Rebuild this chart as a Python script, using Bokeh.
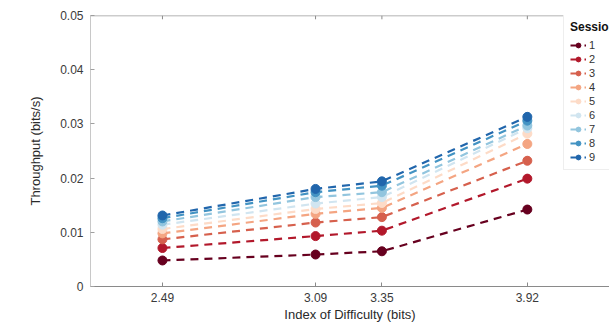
from bokeh.plotting import figure
from bokeh.models import FixedTicker, Legend, LegendItem, Range1d, Span
from bokeh.embed import file_html
from bokeh.resources import INLINE

difficulty = [2.49, 3.09, 3.35, 3.92]
tick_labels = ["2.49", "3.09", "3.35", "3.92"]
sessions = ["1", "2", "3", "4", "5", "6", "7", "8", "9"]

s1 = [0.0048, 0.0059, 0.0065, 0.0142]
s2 = [0.0071, 0.0093, 0.0103, 0.0199]
s3 = [0.0087, 0.0118, 0.0128, 0.0232]
s4 = [0.0098, 0.0134, 0.0145, 0.0263]
s5 = [0.0106, 0.0143, 0.0154, 0.0282]
s6 = [0.0114, 0.0153, 0.0165, 0.0292]
s7 = [0.0120, 0.0165, 0.0174, 0.0297]
s8 = [0.0126, 0.0174, 0.0186, 0.0306]
s9 = [0.0131, 0.0180, 0.0194, 0.0313]
series = [s1, s2, s3, s4, s5, s6, s7, s8, s9]
err = [0.0003, 0.0004, 0.0004, 0.0008]

colors = ["#67001f", "#b2182b", "#d6604d", "#f4a582", "#fddbc7",
          "#d1e5f0", "#92c5de", "#4393c3", "#2166ac"]

FONT = "Liberation Sans"
Y_MAX = 0.05

p = figure(width=609, height=324, output_backend="svg", toolbar_location=None,
           x_range=Range1d(2.208, 4.242), y_range=Range1d(0, Y_MAX),
           min_border_left=90, min_border_right=0, min_border_top=15,
           min_border_bottom=38)
p.outline_line_color = None
p.grid.grid_line_color = None
p.background_fill_color = "white"

# top box line with inward ticks
p.add_layout(Span(location=Y_MAX, dimension="width", line_color="#9a9a9a", line_width=1.5))
p.segment(difficulty, [Y_MAX] * len(difficulty), difficulty, [Y_MAX - 0.0007] * len(difficulty),
          line_color="#8a8a8a", line_width=1)

items = []
for name, ys, c in zip(sessions, series, colors):
    lr = p.line(difficulty, ys, line_color=c, line_width=2.2, line_dash="8 6")
    p.segment(difficulty, [y - e for y, e in zip(ys, err)],
              difficulty, [y + e for y, e in zip(ys, err)],
              line_color=c, line_width=2.5)
    sr = p.scatter(difficulty, ys, marker="circle", size=9, fill_color=c, line_color=c)
    items.append(LegendItem(label=name, renderers=[lr, sr]))

xa = p.xaxis[0]
xa.ticker = FixedTicker(ticks=difficulty)
xa.major_label_overrides = {d: l for d, l in zip(difficulty, tick_labels)}
xa.axis_label = "Index of Difficulty (bits)"
ya = p.yaxis[0]
ya.ticker = FixedTicker(ticks=[0, 0.01, 0.02, 0.03, 0.04, 0.05])
ya.major_label_overrides = {0: "0", 0.01: "0.01", 0.02: "0.02", 0.03: "0.03",
                            0.04: "0.04", 0.05: "0.05"}
ya.axis_label = "Throughput (bits/s)"

for ax in (xa, ya):
    ax.minor_tick_line_color = None
    ax.major_tick_in = 4
    ax.major_tick_out = 0
    ax.major_label_text_font = FONT
    ax.major_label_text_font_size = "12px"
    ax.major_label_text_color = "#3a3a3a"
    ax.axis_label_text_font = FONT
    ax.axis_label_text_font_size = "13px"
    ax.axis_label_text_font_style = "normal"
    ax.axis_label_text_color = "#2a2a2a"
xa.major_label_standoff = 6
ya.major_label_standoff = 7
xa.axis_line_color = "#8a8a8a"
xa.major_tick_line_color = "#8a8a8a"
ya.axis_line_color = "#c8c8c8"
ya.major_tick_line_color = "#a0a0a0"
xa.axis_label_standoff = 2
ya.axis_label_standoff = 14

legend = Legend(items=items, location=(473, 116), title="Session",
                title_text_font=FONT, title_text_font_size="12px",
                title_text_font_style="bold", title_text_color="#111111",
                label_text_font=FONT, label_text_font_size="11px",
                label_text_color="#333333", label_standoff=3,
                glyph_width=16, glyph_height=12, spacing=2,
                border_line_color="#dddddd", padding=6, margin=0,
                background_fill_alpha=1.0)
p.add_layout(legend, "center")

open("out.html", "w").write(file_html(p, INLINE))
